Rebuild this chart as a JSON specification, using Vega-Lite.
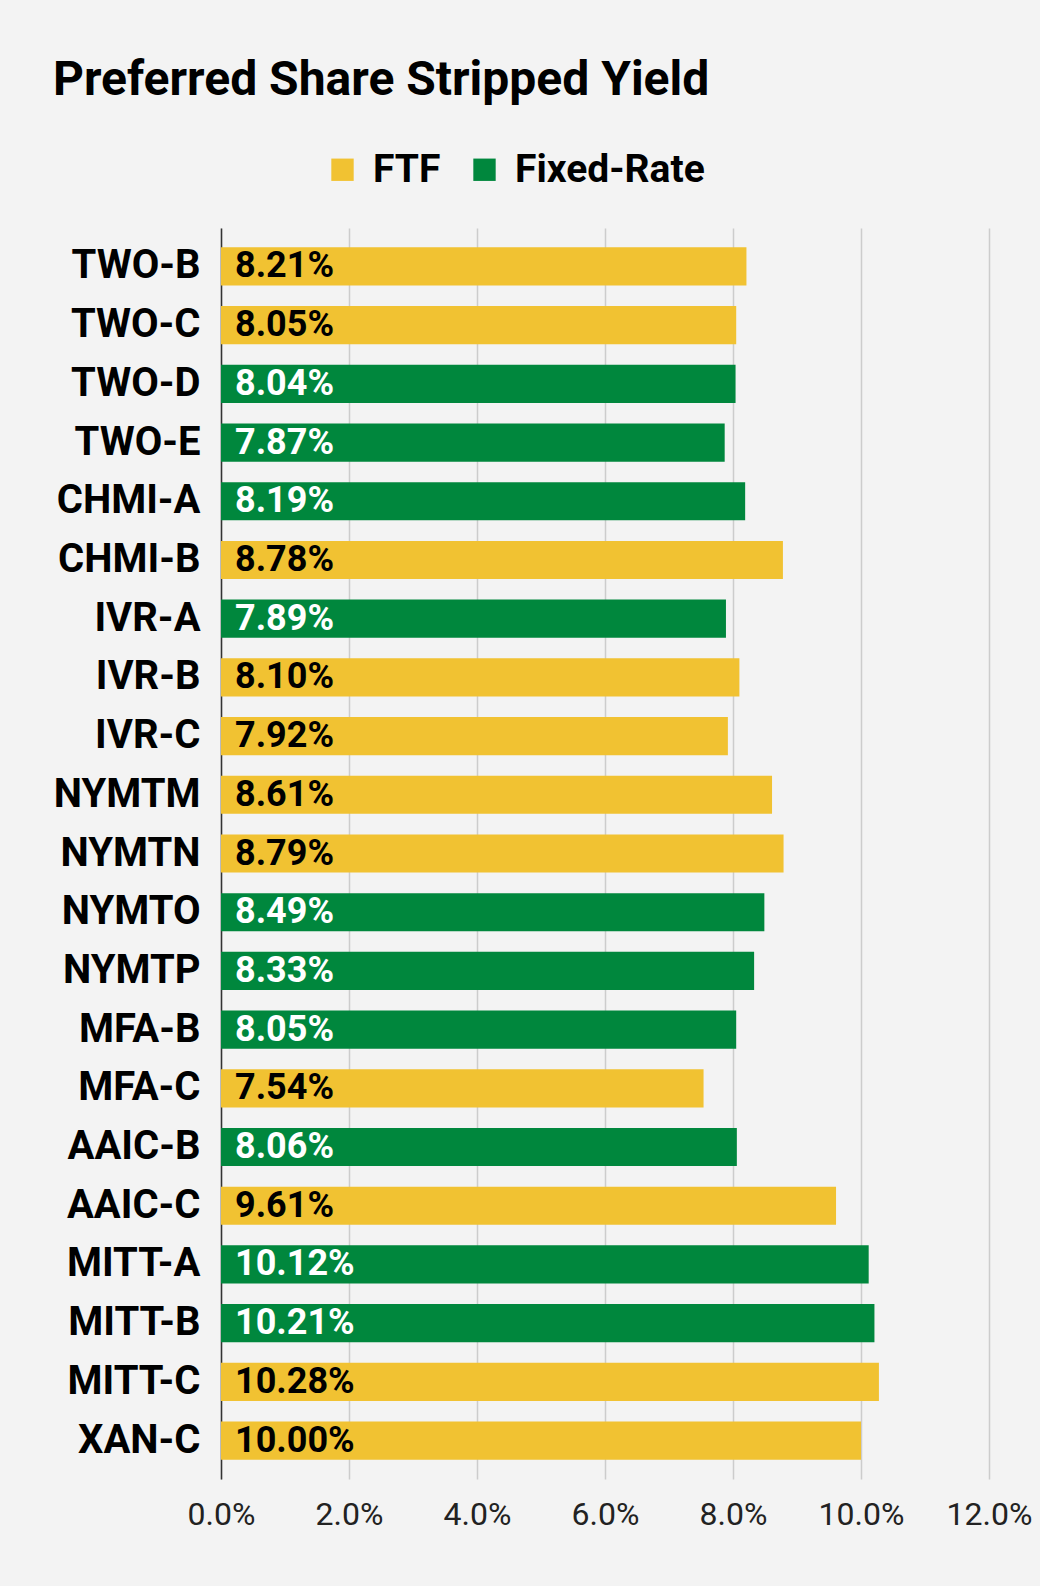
{
  "$schema": "https://vega.github.io/schema/vega-lite/v6.json",
  "autosize": {"type": "none"},
  "width": 768,
  "height": 1251,
  "padding": {"left": 221, "top": 228, "right": 51, "bottom": 107},
  "background": "#f3f3f3",
  "title": {
    "text": "Preferred Share Stripped Yield",
    "anchor": "start",
    "frame": "group",
    "dx": -168,
    "offset": 45,
    "fontSize": 48,
    "fontWeight": "bold",
    "color": "#000000",
    "font": "Roboto"
  },
  "data": {
    "values": [
      {"ticker": "TWO-B", "type": "FTF", "yield": 0.0821},
      {"ticker": "TWO-C", "type": "FTF", "yield": 0.0805},
      {"ticker": "TWO-D", "type": "Fixed-Rate", "yield": 0.0804},
      {"ticker": "TWO-E", "type": "Fixed-Rate", "yield": 0.0787},
      {"ticker": "CHMI-A", "type": "Fixed-Rate", "yield": 0.0819},
      {"ticker": "CHMI-B", "type": "FTF", "yield": 0.0878},
      {"ticker": "IVR-A", "type": "Fixed-Rate", "yield": 0.0789},
      {"ticker": "IVR-B", "type": "FTF", "yield": 0.0810},
      {"ticker": "IVR-C", "type": "FTF", "yield": 0.0792},
      {"ticker": "NYMTM", "type": "FTF", "yield": 0.0861},
      {"ticker": "NYMTN", "type": "FTF", "yield": 0.0879},
      {"ticker": "NYMTO", "type": "Fixed-Rate", "yield": 0.0849},
      {"ticker": "NYMTP", "type": "Fixed-Rate", "yield": 0.0833},
      {"ticker": "MFA-B", "type": "Fixed-Rate", "yield": 0.0805},
      {"ticker": "MFA-C", "type": "FTF", "yield": 0.0754},
      {"ticker": "AAIC-B", "type": "Fixed-Rate", "yield": 0.0806},
      {"ticker": "AAIC-C", "type": "FTF", "yield": 0.0961},
      {"ticker": "MITT-A", "type": "Fixed-Rate", "yield": 0.1012},
      {"ticker": "MITT-B", "type": "Fixed-Rate", "yield": 0.1021},
      {"ticker": "MITT-C", "type": "FTF", "yield": 0.1028},
      {"ticker": "XAN-C", "type": "FTF", "yield": 0.1000}
    ]
  },
  "encoding": {
    "y": {
      "field": "ticker",
      "type": "nominal",
      "sort": null,
      "title": null,
      "scale": {"paddingInner": 0.35, "paddingOuter": 0.33},
      "axis": {
        "labelFont": "Roboto",
        "labelFontSize": 40,
        "labelFontWeight": "bold",
        "labelColor": "#000000",
        "labelPadding": 21,
        "labelLimit": 0,
        "ticks": false,
        "domainColor": "#333333",
        "domainWidth": 1.5
      }
    },
    "x": {
      "field": "yield",
      "type": "quantitative",
      "title": null,
      "scale": {"domain": [0, 0.12], "nice": false},
      "axis": {
        "values": [0, 0.02, 0.04, 0.06, 0.08, 0.1, 0.12],
        "format": ".1%",
        "labelFont": "Roboto",
        "labelFontSize": 32,
        "labelColor": "#222222",
        "labelPadding": 20,
        "labelOverlap": false,
        "labelFlush": false,
        "labelBound": false,
        "ticks": false,
        "domain": false,
        "grid": true,
        "gridColor": "#cccccc",
        "gridWidth": 1.5
      }
    }
  },
  "layer": [
    {
      "mark": {"type": "bar", "cornerRadius": 0},
      "encoding": {
        "color": {
          "field": "type",
          "type": "nominal",
          "scale": {"domain": ["FTF", "Fixed-Rate"], "range": ["#f1c232", "#00873d"]},
          "legend": {
            "title": null,
            "orient": "none",
            "direction": "horizontal",
            "legendX": 102,
            "legendY": -78,
            "symbolType": "square",
            "symbolSize": 500,
            "symbolStrokeWidth": 0,
            "labelFont": "Roboto",
            "labelFontSize": 39,
            "labelFontWeight": "bold",
            "labelColor": "#000000",
            "labelOffset": 11,
            "labelLimit": 0,
            "columnPadding": 24
          }
        }
      }
    },
    {
      "mark": {
        "type": "text",
        "align": "left",
        "baseline": "middle",
        "dx": 14,
        "font": "Roboto",
        "fontSize": 36,
        "fontWeight": "bold"
      },
      "encoding": {
        "x": {"datum": 0},
        "text": {"field": "yield", "type": "quantitative", "format": ".2%"},
        "color": {
          "condition": {"test": "datum.type === 'Fixed-Rate'", "value": "#ffffff"},
          "value": "#000000"
        }
      }
    }
  ],
  "config": {
    "view": {"stroke": null}
  }
}
